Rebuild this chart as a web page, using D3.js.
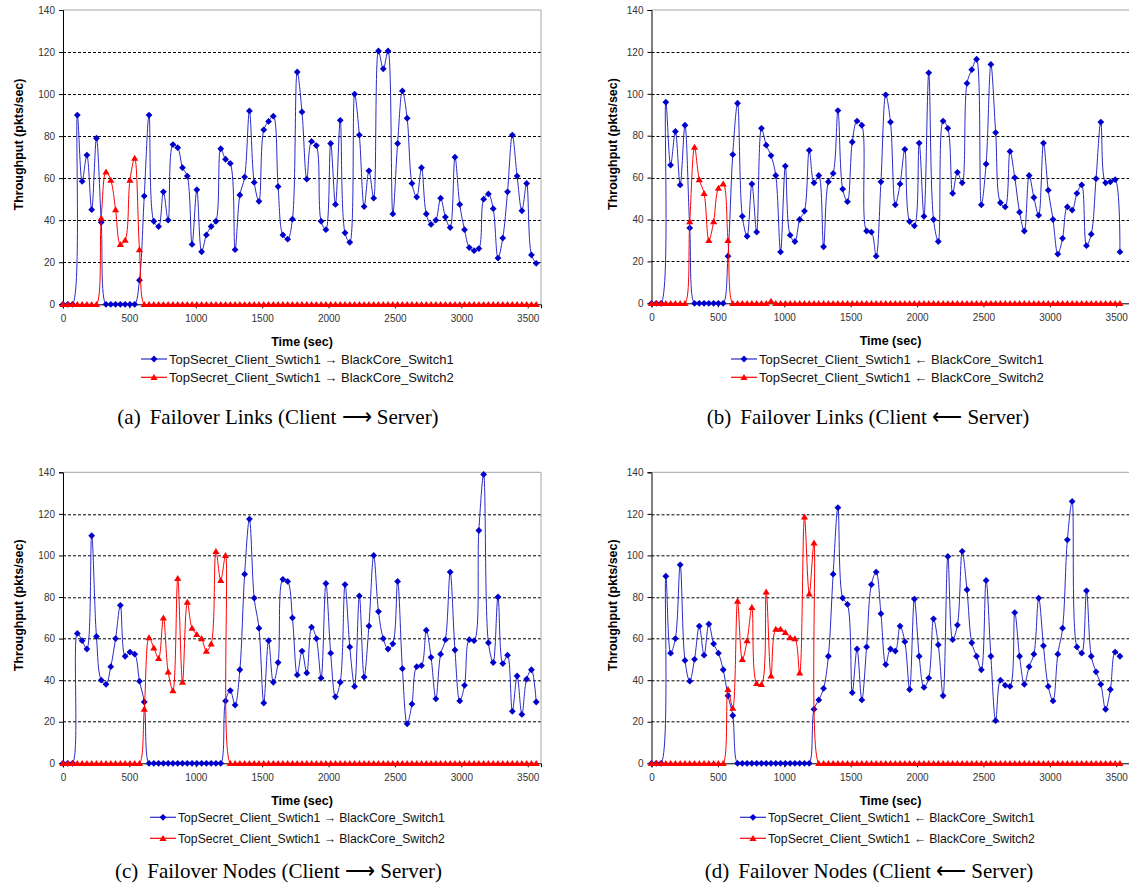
<!DOCTYPE html>
<html>
<head>
<meta charset="utf-8">
<script src="https://cdn.jsdelivr.net/npm/d3@7"></script>
<style>
  body { margin: 0; background: #fff; }
  svg { display: block; }
  text { font-family: "Liberation Sans", Arial, sans-serif; }
  .caption { font-family: "Liberation Serif", "Times New Roman", serif; }
</style>
</head>
<body>
<div id="chart"></div>
<script>
// samples are taken every 36 seconds
const timeStep = 36;
const xMax = 3600, yMax = 140;
const xTicks = [0, 500, 1000, 1500, 2000, 2500, 3000, 3500];
const yTicks = [0, 20, 40, 60, 80, 100, 120, 140];
const gridTicks = [20, 40, 60, 80, 100, 120];

// (a) Failover Links, Client -> Server
const linksUpSwitch1 = [
  0, 0, 0, 90, 58.5, 71, 45, 79, 39, 0,
  0, 0, 0, 0, 0, 0, 11.5, 51.5, 90, 39.5,
  37, 53.5, 40, 76, 74.5, 65, 61, 28.5, 54.5, 25,
  33, 37, 39.5, 74, 69, 67, 26, 52, 60.5, 92,
  58, 49, 83, 87, 89.5, 56, 33, 31, 40.5, 110.5,
  91.5, 59.5, 77.5, 75.5, 39.5, 35.5, 76.5, 47.5, 87.5, 34,
  29.5, 100, 80.5, 46.5, 63.5, 50.5, 120.5, 112, 120.5, 43,
  76.5, 101.5, 88.5, 57.5, 51, 65, 43, 38, 40, 50.5,
  41.5, 36.5, 70, 47.5, 35.5, 27, 25.5, 26.5, 50, 52.5,
  45.5, 22, 31.5, 53.5, 80.5, 61, 44.5, 57.5, 23.5, 19.5
];
const linksUpSwitch2 = [
  0, 0, 0, 0, 0, 0, 0, 0, 41, 63,
  59, 45, 28.5, 30.5, 59, 69.5, 26, 0, 0, 0,
  0, 0, 0, 0, 0, 0, 0, 0, 0, 0,
  0, 0, 0, 0, 0, 0, 0, 0, 0, 0,
  0, 0, 0, 0, 0, 0, 0, 0, 0, 0,
  0, 0, 0, 0, 0, 0, 0, 0, 0, 0,
  0, 0, 0, 0, 0, 0, 0, 0, 0, 0,
  0, 0, 0, 0, 0, 0, 0, 0, 0, 0,
  0, 0, 0, 0, 0, 0, 0, 0, 0, 0,
  0, 0, 0, 0, 0, 0, 0, 0, 0, 0
];

// (b) Failover Links, Client <- Server
const linksDownSwitch1 = [
  0, 0, 0, 96, 66, 82, 56.5, 85, 36, 0,
  0, 0, 0, 0, 0, 0, 22.5, 71, 95.5, 41.5,
  32, 57, 34, 83.5, 75.5, 70.5, 61, 24.5, 65.5, 32.5,
  29.5, 40, 44, 73, 57.5, 61, 27, 58, 62, 92,
  54.5, 48.5, 77, 87, 85, 34.5, 34, 22.5, 58, 99.5,
  86.5, 47, 57, 73.5, 39, 37, 76.5, 41.5, 110, 40,
  29.5, 87, 83.5, 52.5, 62.5, 57.5, 105, 111.5, 116.5, 47,
  66.5, 114, 81.5, 48, 46, 72.5, 60, 43.5, 34.5, 61,
  50.5, 42, 76.5, 54, 40, 23.5, 31, 46, 44.5, 52.5,
  56.5, 27.5, 33, 59.5, 86.5, 57.5, 58, 59, 24.5
];
const linksDownSwitch2 = [
  0, 0, 0, 0, 0, 0, 0, 0, 39, 74.5,
  59, 52.5, 30, 39, 55, 57, 30, 0, 0, 0,
  0, 0, 0, 0, 0, 1, 0, 0, 0, 0,
  0, 0, 0, 0, 0, 0, 0, 0, 0, 0,
  0, 0, 0, 0, 0, 0, 0, 0, 0, 0,
  0, 0, 0, 0, 0, 0, 0, 0, 0, 0,
  0, 0, 0, 0, 0, 0, 0, 0, 0, 0,
  0, 0, 0, 0, 0, 0, 0, 0, 0, 0,
  0, 0, 0, 0, 0, 0, 0, 0, 0, 0,
  0, 0, 0, 0, 0, 0, 0, 0, 0
];

// (c) Failover Nodes, Client -> Server
const nodesUpSwitch1 = [
  0, 0, 0, 62.5, 59, 55, 109.5, 61, 40, 38,
  46.5, 60, 76, 51.5, 53.5, 52.5, 39.5, 29.5, 0, 0,
  0, 0, 0, 0, 0, 0, 0, 0, 0, 0,
  0, 0, 0, 0, 30, 35, 28, 45, 91, 117.5,
  79.5, 65, 29, 59, 39, 48.5, 88.5, 87.5, 70, 42.5,
  54, 43.5, 65.5, 60, 41, 86.5, 53, 32, 39, 86,
  56, 37, 80.5, 41.5, 66, 100, 73, 60, 55, 57.5,
  87.5, 45.5, 19, 28.5, 46.5, 47, 64, 51, 31, 52.5,
  59.5, 92, 54.5, 30, 37.5, 59.5, 59, 112, 139, 58,
  48.5, 80, 48, 52, 25, 42, 23.5, 40.5, 45, 29.5
];
const nodesUpSwitch2 = [
  0, 0, 0, 0, 0, 0, 0, 0, 0, 0,
  0, 0, 0, 0, 0, 0, 0, 26, 60.5, 55.5,
  50.5, 70, 44, 35, 89, 39, 77.5, 65, 62, 60,
  54, 57.5, 102, 88, 100, 0, 0, 0, 0, 0,
  0, 0, 0, 0, 0, 0, 0, 0, 0, 0,
  0, 0, 0, 0, 0, 0, 0, 0, 0, 0,
  0, 0, 0, 0, 0, 0, 0, 0, 0, 0,
  0, 0, 0, 0, 0, 0, 0, 0, 0, 0,
  0, 0, 0, 0, 0, 0, 0, 0, 0, 0,
  0, 0, 0, 0, 0, 0, 0, 0, 0, 0
];

// (d) Failover Nodes, Client <- Server
const nodesDownSwitch1 = [
  0, 0, 0, 90, 53, 60, 95.5, 49.5, 39.5, 50,
  66, 52, 67, 57.5, 53, 45, 32.5, 23, 0, 0,
  0, 0, 0, 0, 0, 0, 0, 0, 0, 0,
  0, 0, 0, 0, 26, 30.5, 36, 51.5, 91, 123,
  79.5, 76.5, 34, 55, 30.5, 56, 86, 92, 72, 47.5,
  55, 54, 66, 58.5, 35.5, 79, 51.5, 36.5, 41, 69.5,
  57, 32.5, 99.5, 59.5, 66.5, 102, 83.5, 58, 51.5, 45,
  88, 51.5, 20.5, 40, 37.5, 37, 72.5, 51.5, 38, 46.5,
  52.5, 79.5, 56.5, 37, 30, 52.5, 65, 107.5, 126, 56,
  53, 83, 51.5, 44, 38, 26, 35.5, 53.5, 51.5
];
const nodesDownSwitch2 = [
  0, 0, 0, 0, 0, 0, 0, 0, 0, 0,
  0, 0, 0, 0, 0, 0, 35.5, 26.5, 78, 50,
  59, 75, 38.5, 38, 82.5, 42, 64.5, 64.5, 63, 60.5,
  60, 43.5, 118.5, 81.5, 106, 0, 0, 0, 0, 0,
  0, 0, 0, 0, 0, 0, 0, 0, 0, 0,
  0, 0, 0, 0, 0, 0, 0, 0, 0, 0,
  0, 0, 0, 0, 0, 0, 0, 0, 0, 0,
  0, 0, 0, 0, 0, 0, 0, 0, 0, 0,
  0, 0, 0, 0, 0, 0, 0, 0, 0, 0,
  0, 0, 0, 0, 0, 0, 0, 0, 0
];

const panels = [
  { tag: '(a)', title: 'Failover Links (Client \u27F6 Server)', arrow: '\u2192',
    s1: linksUpSwitch1, s2: linksUpSwitch2,
    left: 63, top: 10, width: 478, height: 294.3, yTitleX: 18.5,
    legX: 141, legRows: [359, 377.3], legFont: 13, capX: 278, capY: 417 },
  { tag: '(b)', title: 'Failover Links (Client \u27F5 Server)', arrow: '\u2190',
    s1: linksDownSwitch1, s2: linksDownSwitch2,
    left: 651.5, top: 10, width: 478, height: 293.3, yTitleX: 612.5,
    legX: 731, legRows: [359, 377.3], legFont: 13, capX: 868, capY: 417 },
  { tag: '(c)', title: 'Failover Nodes (Client \u27F6 Server)', arrow: '\u2192',
    s1: nodesUpSwitch1, s2: nodesUpSwitch2,
    left: 63, top: 472.3, width: 478, height: 291, yTitleX: 18.5,
    legX: 150, legRows: [817.3, 838.3], legFont: 12.2, capX: 278.5, capY: 871 },
  { tag: '(d)', title: 'Failover Nodes (Client \u27F5 Server)', arrow: '\u2190',
    s1: nodesDownSwitch1, s2: nodesDownSwitch2,
    left: 651.5, top: 472.3, width: 478, height: 291, yTitleX: 612.5,
    legX: 740, legRows: [817.3, 838.3], legFont: 12.2, capX: 869, capY: 871 }
];

const blue = '#0000cc', blueLine = '#2a2ac8', red = '#ff0000';
const diamond = 'M0,-3.4L3.4,0L0,3.4L-3.4,0Z';
const triangle = 'M0,-3.4L3.6,2.6L-3.6,2.6Z';

const svg = d3.select('#chart').append('svg')
  .attr('width', 1129).attr('height', 892)
  .attr('viewBox', '0 0 1129 892');

svg.append('rect').attr('width', 1129).attr('height', 892).attr('fill', '#fff');

panels.forEach((p, k) => {
  const g = svg.append('g').attr('transform', `translate(${p.left},${p.top})`);
  const x = d3.scaleLinear().domain([0, xMax]).range([0, p.width]);
  const y = d3.scaleLinear().domain([0, yMax]).range([p.height, 0]);

  // dashed grid
  g.append('g').selectAll('line').data(gridTicks).join('line')
    .attr('x1', 0).attr('x2', p.width)
    .attr('y1', d => Math.round(y(d)) + 0.5).attr('y2', d => Math.round(y(d)) + 0.5)
    .attr('stroke', '#000').attr('stroke-dasharray', '3,2');

  // gray frame on top and right
  g.append('path')
    .attr('d', `M0,${y(yMax)}H${p.width}V${p.height}`)
    .attr('fill', 'none').attr('stroke', '#a6a6a6');

  // Y axis
  const yAxis = g.append('g')
    .call(d3.axisLeft(y).tickValues(yTicks).tickSize(4).tickPadding(4));
  yAxis.select('.domain').attr('stroke', '#000');
  yAxis.selectAll('text').attr('font-size', 10).attr('fill', '#333')
    .attr('font-family', '"Liberation Sans", Arial, sans-serif');

  // X axis
  const xAxis = g.append('g').attr('transform', `translate(0,${p.height})`)
    .call(d3.axisBottom(x).tickValues(xTicks).tickFormat(d3.format('d')).tickSize(4).tickPadding(7));
  xAxis.select('.domain').attr('stroke', '#000');
  xAxis.selectAll('text').attr('font-size', 10).attr('fill', '#333')
    .attr('font-family', '"Liberation Sans", Arial, sans-serif');

  // axis titles
  g.append('text')
    .attr('x', p.width / 2).attr('y', p.height + 37 + 4.5)
    .attr('text-anchor', 'middle').attr('font-weight', 'bold').attr('font-size', 12.5)
    .text('Time (sec)');
  g.append('text')
    .attr('transform', `translate(${p.yTitleX - p.left + 4.5},${p.height * 0.457}) rotate(-90)`)
    .attr('text-anchor', 'middle').attr('font-weight', 'bold').attr('font-size', 12.5)
    .text('Throughput (pkts/sec)');

  // series
  const clipId = 'clip' + k;
  g.append('clipPath').attr('id', clipId).append('rect')
    .attr('x', 0).attr('y', 0).attr('width', p.width).attr('height', p.height + 0.5);

  const line = d3.line()
    .x((d, i) => x(i * timeStep))
    .y(d => y(d))
    .curve(d3.curveCatmullRom);

  const series = [
    { data: p.s1, stroke: blueLine, fill: blue, shape: diamond },
    { data: p.s2, stroke: red, fill: red, shape: triangle }
  ];
  series.forEach(s => {
    g.append('path').datum(s.data)
      .attr('clip-path', `url(#${clipId})`)
      .attr('fill', 'none').attr('stroke', s.stroke).attr('stroke-width', 1)
      .attr('d', line);
    g.append('g').selectAll('path').data(s.data).join('path')
      .attr('transform', (d, i) => `translate(${x(i * timeStep)},${y(d)})`)
      .attr('d', s.shape).attr('fill', s.fill);
  });

  // legend
  const names = ['BlackCore_Switch1', 'BlackCore_Switch2'];
  series.forEach((s, j) => {
    const ly = p.legRows[j];
    const lg = svg.append('g').attr('transform', `translate(${p.legX},${ly})`);
    lg.append('line').attr('x1', 0).attr('x2', 26).attr('y1', 0).attr('y2', 0)
      .attr('stroke', s.stroke).attr('stroke-width', 1.2);
    lg.append('path').attr('transform', 'translate(13,0)').attr('d', s.shape).attr('fill', s.fill);
    lg.append('text').attr('x', 28).attr('y', p.legFont * 0.36)
      .attr('font-size', p.legFont).attr('fill', '#111')
      .text(`TopSecret_Client_Swtich1 ${p.arrow} ${names[j]}`);
  });

  // caption
  const cap = svg.append('text').attr('class', 'caption')
    .attr('x', p.capX).attr('y', p.capY + 7)
    .attr('text-anchor', 'middle').attr('font-size', 21).attr('fill', '#000');
  cap.append('tspan').text(p.tag);
  cap.append('tspan').attr('dx', 9).text(p.title);
});
</script>
</body>
</html>
